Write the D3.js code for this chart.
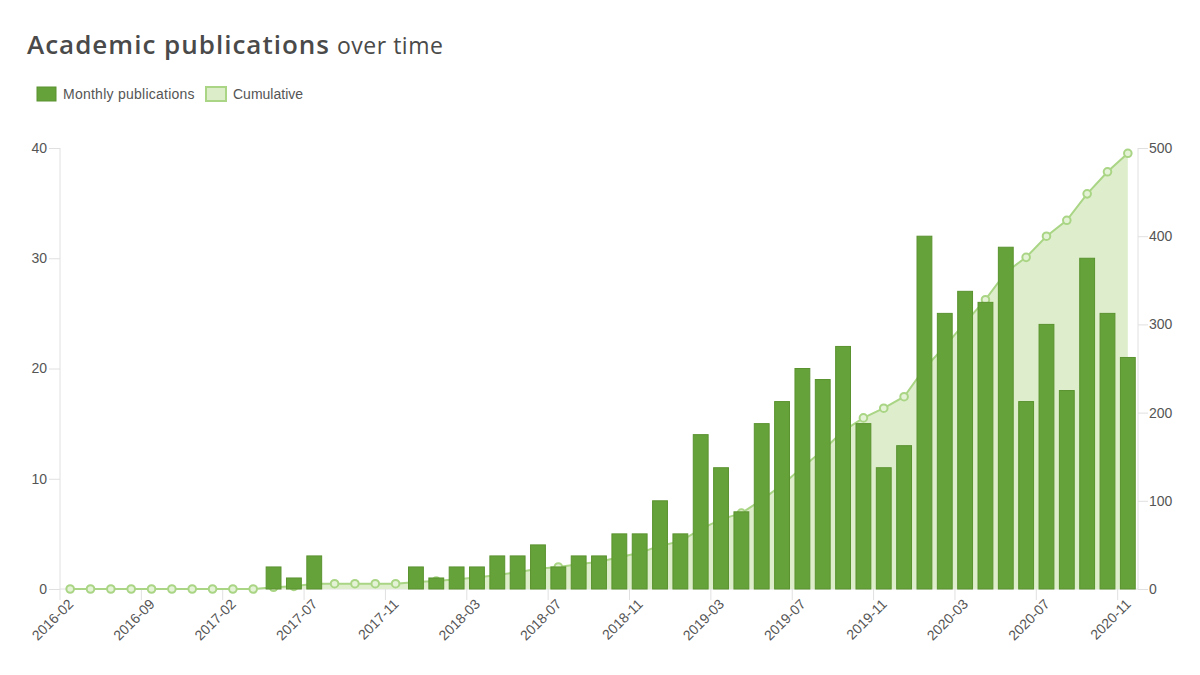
<!DOCTYPE html>
<html>
<head>
<meta charset="utf-8">
<script src="https://cdn.jsdelivr.net/npm/d3@7"></script>
<style>
  html, body { margin: 0; padding: 0; background: #fff; }
  svg { display: block; }
</style>
</head>
<body>
<svg id="chart" width="1200" height="675"></svg>
<script>
// ---- data ----
const months = [
  "2016-02","2016-04","2016-05","2016-07","2016-09","2016-10","2016-11","2016-12",
  "2017-02","2017-04","2017-05","2017-06","2017-07","2017-08","2017-09","2017-10",
  "2017-11","2017-12","2018-01","2018-02","2018-03","2018-04","2018-05","2018-06",
  "2018-07","2018-08","2018-09","2018-10","2018-11","2018-12","2019-01","2019-02",
  "2019-03","2019-04","2019-05","2019-06","2019-07","2019-08","2019-09","2019-10",
  "2019-11","2019-12","2020-01","2020-02","2020-03","2020-04","2020-05","2020-06",
  "2020-07","2020-08","2020-09","2020-10","2020-11"
];
const monthly = [
  0,0,0,0,0,0,0,0,
  0,0,2,1,3,0,0,0,
  0,2,1,2,2,3,3,4,
  2,3,3,5,5,8,5,14,
  11,7,15,17,20,19,22,15,
  11,13,32,25,27,26,31,17,
  24,18,30,25,21
];
const cumulative = [
  0,0,0,0,0,0,0,0,
  0,0,2,3,6,6,6,6,
  6,8,9,11,13,16,19,23,
  25,28,31,36,41,49,54,68,
  79,86,101,118,138,157,179,194,
  205,218,250,275,302,328,359,376,
  400,418,448,473,494
];
const leftTicks = [0, 10, 20, 30, 40];
const rightTicks = [0, 100, 200, 300, 400, 500];
const labelStep = 4;
const seriesNames = ["Monthly publications", "Cumulative"];

// ---- layout ----
const svg = d3.select("#chart");
const L = 60, R = 1138, T = 148, B = 589;
const barFill = "#66a23a", barStroke = "#5a922f";
const lineColor = "#a9d585", areaFill = "#dcedc9";
const textColor = "#555555";
const font = "'Liberation Sans', Arial, Helvetica, sans-serif";

const x = d3.scaleBand().domain(months).range([L, R]).paddingInner(0.27).paddingOuter(0.135);
const xc = d3.scaleBand().domain(months).range([L, R]); // full bands for ticks/centres
const yL = d3.scaleLinear().domain([0, 40]).range([B, T]);
const yR = d3.scaleLinear().domain([0, 500]).range([B, T]);
const cx = m => xc(m) + xc.bandwidth() / 2;

// title
const title = svg.append("text").attr("x", 27).attr("y", 54)
  .attr("font-family", "'Open Sans', sans-serif").attr("fill", "#4a4a4a");
title.append("tspan").attr("font-size", 26).attr("font-weight", 600)
  .attr("letter-spacing", 1).text("Academic publications");
title.append("tspan").attr("font-size", 23).attr("font-weight", 400)
  .attr("letter-spacing", 0.5).attr("dx", 7).text("over time");

// legend
const lg = svg.append("g").attr("font-family", font).attr("font-size", 14).attr("fill", textColor);
lg.append("rect").attr("x", 37).attr("y", 87).attr("width", 19).attr("height", 14)
  .attr("fill", barFill).attr("stroke", barStroke).attr("stroke-width", 1);
lg.append("text").attr("x", 63).attr("y", 99).attr("letter-spacing", 0.25).text(seriesNames[0]);
lg.append("rect").attr("x", 206).attr("y", 87).attr("width", 20).attr("height", 14)
  .attr("fill", areaFill).attr("stroke", lineColor).attr("stroke-width", 2);
lg.append("text").attr("x", 233).attr("y", 99).text(seriesNames[1]);

// axes lines
const axisColor = "#e0e0e0";
svg.append("line").attr("x1", L).attr("x2", L).attr("y1", T).attr("y2", B)
  .attr("stroke", axisColor);
svg.append("line").attr("x1", R).attr("x2", R).attr("y1", T).attr("y2", B)
  .attr("stroke", axisColor);
svg.append("line").attr("x1", L).attr("x2", R).attr("y1", B).attr("y2", B)
  .attr("stroke", axisColor);

// left axis
const la = svg.append("g").attr("transform", `translate(${L},0)`)
  .call(d3.axisLeft(yL).tickValues(leftTicks).tickSize(11).tickPadding(2).tickFormat(d3.format("d")));
la.select(".domain").remove();
la.selectAll("line").attr("stroke", axisColor);
la.selectAll("text").attr("font-family", font).attr("font-size", 14).attr("fill", textColor);

// right axis
const ra = svg.append("g").attr("transform", `translate(${R},0)`)
  .call(d3.axisRight(yR).tickValues(rightTicks).tickSize(10).tickPadding(1).tickFormat(d3.format("d")));
ra.select(".domain").remove();
ra.selectAll("line").attr("stroke", axisColor);
ra.selectAll("text").attr("font-family", font).attr("font-size", 14).attr("fill", textColor);

// x ticks and labels
const labelled = months.filter((m, i) => i % labelStep === 0);
const xa = svg.append("g");
xa.selectAll("line").data(labelled).join("line")
  .attr("x1", d => xc(d)).attr("x2", d => xc(d)).attr("y1", B).attr("y2", B + 11)
  .attr("stroke", axisColor);
xa.selectAll("text").data(labelled).join("text")
  .attr("transform", d => `translate(${cx(d) + 4},${B + 16}) rotate(-45)`)
  .attr("text-anchor", "end").attr("font-family", font).attr("font-size", 14)
  .attr("fill", textColor).text(d => d);

// cumulative area + line
const pts = months.map((m, i) => ({ m, v: cumulative[i] }));
const area = d3.area().x(d => cx(d.m)).y0(B).y1(d => yR(d.v));
svg.append("path").datum(pts).attr("d", area).attr("fill", areaFill).attr("opacity", 0.95);
const line = d3.line().x(d => cx(d.m)).y(d => yR(d.v));
svg.append("path").datum(pts).attr("d", line).attr("fill", "none")
  .attr("stroke", lineColor).attr("stroke-width", 2);
svg.append("g").selectAll("circle").data(pts).join("circle")
  .attr("cx", d => cx(d.m)).attr("cy", d => yR(d.v)).attr("r", 3.8)
  .attr("fill", "#e4f2d6").attr("stroke", lineColor).attr("stroke-width", 2);

// bars
const bars = months.map((m, i) => ({ m, v: monthly[i] })).filter(d => d.v > 0);
svg.append("g").selectAll("rect").data(bars).join("rect")
  .attr("x", d => x(d.m))
  .attr("width", x.bandwidth())
  .attr("y", d => yL(d.v)).attr("height", d => B - yL(d.v))
  .attr("fill", barFill).attr("stroke", barStroke).attr("stroke-width", 1);
</script>
</body>
</html>
